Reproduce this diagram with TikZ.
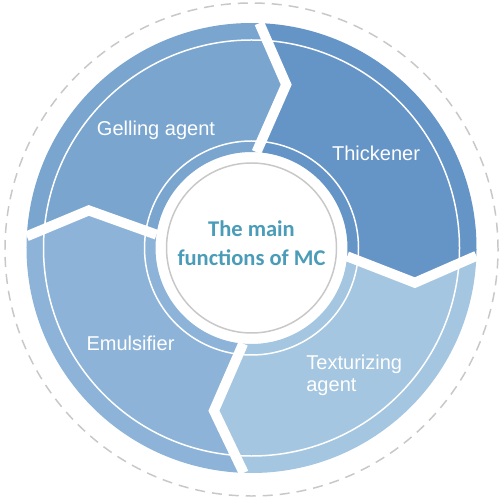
\documentclass[tikz,border=0pt]{standalone}
\usepackage{fontspec}
\setmainfont{Liberation Sans}
\newfontfamily\carlito{Carlito}
\definecolor{gellblue}{HTML}{79A5CF}
\definecolor{thickblue}{HTML}{6594C6}
\definecolor{emulblue}{HTML}{8DB4D8}
\definecolor{textblue}{HTML}{A4C6E1}
\definecolor{mcteal}{HTML}{4A9CB9}
\definecolor{rimgray}{HTML}{C8C8C8}
\begin{document}
\begin{tikzpicture}[seglabel/.style={text=white, font=\fontsize{11.4}{12.5}\selectfont},
  gapline/.style={white, line width=5.7pt, line cap=square},
  ringline/.style={white, line width=0.85pt}]
  \useasboundingbox (-5.03,-5.04) rectangle (4.97,4.96);
  \draw[rimgray, line width=0.85pt, dash pattern=on 0.2cm off 0.14cm] (0,-0.03) circle (4.93);
  % chevron corners of the four borders
  \coordinate (t-in) at (87:1.92); \coordinate (t-tip) at (78:3.34); \coordinate (t-out) at (88:4.5);
  \coordinate (r-in) at (-5:1.92); \coordinate (r-tip) at (-12:3.34); \coordinate (r-out) at (-2:4.5);
  \coordinate (b-in) at (265:1.92); \coordinate (b-tip) at (257:3.34); \coordinate (b-out) at (268:4.5);
  \coordinate (l-in) at (172:1.92); \coordinate (l-tip) at (167:3.34); \coordinate (l-out) at (177:4.5);
  \fill[thickblue] (r-in) -- (r-tip) -- (r-out) arc[start angle=-2, end angle=88, radius=4.5]
    -- (t-tip) -- (t-in) arc[start angle=87, end angle=-5, radius=1.92] -- cycle;
  \fill[gellblue] (t-in) -- (t-tip) -- (t-out) arc[start angle=88, end angle=177, radius=4.5]
    -- (l-tip) -- (l-in) arc[start angle=172, end angle=87, radius=1.92] -- cycle;
  \fill[emulblue] (l-in) -- (l-tip) -- (l-out) arc[start angle=177, end angle=268, radius=4.5]
    -- (b-tip) -- (b-in) arc[start angle=265, end angle=172, radius=1.92] -- cycle;
  \fill[textblue] (b-in) -- (b-tip) -- (b-out) arc[start angle=268, end angle=358, radius=4.5]
    -- (r-tip) -- (r-in) arc[start angle=355, end angle=265, radius=1.92] -- cycle;
  \draw[ringline] (0,0) circle (4.16);
  \draw[ringline] (0,0) circle (2.14);
  \draw[gapline] (t-in) -- (t-tip) -- (t-out);
  \draw[gapline] (r-in) -- (r-tip) -- (r-out);
  \draw[gapline] (b-in) -- (b-tip) -- (b-out);
  \draw[gapline] (l-in) -- (l-tip) -- (l-out);
  \draw[rimgray, line width=0.85pt, fill=white] (0,0) circle (1.7);
  \node[align=center, text=mcteal, font=\carlito\bfseries\fontsize{12.8}{16.5}\selectfont] (main) at (0,0.09) {The main\\functions of MC};
  \node[seglabel] (gelling) at (-1.91,2.36) {Gelling agent};
  \node[seglabel] (thick) at (2.49,1.90) {Thickener};
  \node[seglabel] (emul) at (-2.42,-1.90) {Emulsifier};
  \node[seglabel, anchor=west, align=left, inner sep=0pt] (textur) at (1.09,-2.54) {Texturizing\\agent};
\end{tikzpicture}
\end{document}
